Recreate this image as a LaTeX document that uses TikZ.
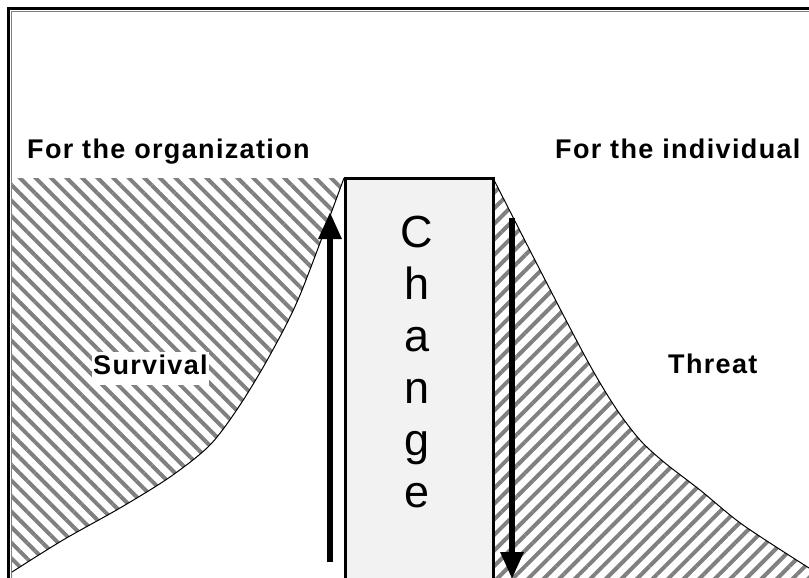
\documentclass[tikz,border=0pt]{standalone}
\usepackage{fontspec}
\setmainfont{Liberation Sans}
\newfontfamily\labelfont[LetterSpace=5]{Liberation Sans}
\usetikzlibrary{arrows.meta,patterns.meta}

\tikzset{
  hatchleft/.style={pattern={Lines[angle=-45,distance=11pt,line width=4pt]},pattern color=black!50},
  hatchright/.style={pattern={Lines[angle=45,distance=11pt,line width=4pt]},pattern color=black!50},
  sidelabel/.style={font=\labelfont\bfseries\fontsize{27}{32}\selectfont,inner sep=0pt,anchor=base west},
  changeletter/.style={font=\fontsize{45}{52}\selectfont,inner sep=0pt,anchor=base},
  bigarrow/.style={line width=6pt,-{Triangle[width=22pt,length=27pt]}},
  edgeline/.style={line width=1pt},
}

\begin{document}
\begin{tikzpicture}[x=1pt,y=-1pt]
		\useasboundingbox (0,0) rectangle (809,578);
		\clip (0,0) rectangle (809,578);
		%%%%% START %%%%%
		% survival side
		\fill[hatchleft] (12,178) -- plot[smooth] coordinates {(344,178) (300,295) (270,355) (240,405) (210,445) (170,477) (120,508) (63,540) (12,572)} -- (12,578) -- cycle;
		\draw[edgeline] plot[smooth] coordinates {(344,178) (300,295) (270,355) (240,405) (210,445) (170,477) (120,508) (63,540) (12,572)};
		
		% threat side
		\fill[hatchright] (493,178) -- plot[smooth] coordinates {(493,178) (540,270) (587,360) (615,407) (640,440) (665,463) (700,490) (743,525) (809,568)} -- (809,578) -- (493,578) -- cycle;
		\draw[edgeline] plot[smooth] coordinates {(493,178) (540,270) (587,360) (615,407) (640,440) (665,463) (700,490) (743,525) (809,568)};
		
		% change box
		\fill[black!5] (345,178) rectangle (493,582);
		\draw[line width=3pt] (345,582) -- (345,178) -- (493,178) -- (493,582);
		\foreach \ch [count=\i] in {C,h,a,n,g,e}
			\node[changeletter] (letter\i) at (417,195+52*\i) {\ch};
		
		% arrows
		\coordinate (upfoot) at (330,562);
		\coordinate (uptip) at (330,212);
		\coordinate (downtop) at (512,218);
		\coordinate (downtip) at (512,579);
		\draw[bigarrow] (upfoot) -- (uptip);
		\draw[bigarrow] (downtop) -- (downtip);
		
		% labels
		\node[sidelabel] (org) at (27,158) {For the organization};
		\node[sidelabel] (ind) at (555,158) {For the individual};
		\node[sidelabel,fill=white,text height=20pt,text depth=9pt,inner xsep=1pt,inner ysep=2pt] (surv) at (92,374) {Survival};
		\node[sidelabel] (threat) at (668,373) {Threat};
		
		% frame
		\draw[black!50,line width=1pt] (11.5,582) -- (11.5,11.5) -- (812,11.5);
		\draw[line width=3pt] (8.5,582) -- (8.5,8.5) -- (812,8.5);
		%%%%% END %%%%%
	\end{tikzpicture}
\end{document}
